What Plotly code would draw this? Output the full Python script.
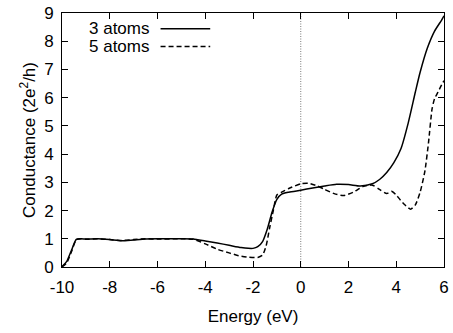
import plotly.graph_objects as go

# 3 atoms (solid)
e3 = [-10, -9.8, -9.6, -9.4, -9.2, -9.0, -8.5, -8.0, -7.5, -7.0, -6.5, -6.0, -5.0, -4.5, -4.0, -3.5, -3.0,
      -2.5, -2.2, -2.0, -1.8, -1.6, -1.4, -1.2, -1.0, -0.8, -0.5, 0.0, 0.5, 1.0, 1.5, 2.0, 2.5, 3.0,
      3.3, 3.6, 3.9, 4.2, 4.5, 4.8, 5.0, 5.3, 5.6, 5.9, 6.0]
g3 = [0.02, 0.2, 0.6, 0.98, 1.0, 0.99, 1.0, 0.97, 0.93, 0.96, 0.99, 1.0, 1.0, 0.99, 0.92, 0.85, 0.77,
      0.69, 0.66, 0.66, 0.72, 0.9, 1.35, 1.95, 2.4, 2.58, 2.65, 2.72, 2.8, 2.87, 2.93, 2.92, 2.87, 2.95,
      3.1, 3.35, 3.7, 4.2, 5.1, 6.2, 6.9, 7.75, 8.35, 8.75, 8.9]

# 5 atoms (dashed)
e5 = [-10, -9.8, -9.6, -9.4, -9.2, -9.0, -8.5, -8.0, -7.5, -7.0, -6.5, -6.0, -5.0, -4.5, -4.0, -3.5, -3.0,
      -2.6, -2.2, -1.8, -1.6, -1.45, -1.3, -1.15, -1.0, -0.8, -0.5, 0.0, 0.3, 0.7, 1.0, 1.4, 1.8, 2.2,
      2.6, 3.0, 3.3, 3.6, 3.8, 4.0, 4.3, 4.6, 4.8, 5.0, 5.2, 5.35, 5.5, 5.6, 5.75, 5.9, 6.0]
g5 = [0.0, 0.15, 0.55, 0.97, 1.0, 0.98, 1.0, 0.97, 0.94, 0.97, 1.0, 0.99, 1.0, 0.98, 0.82, 0.63, 0.5,
      0.4, 0.35, 0.34, 0.42, 0.75, 1.4, 2.0, 2.55, 2.65, 2.78, 2.95, 2.97, 2.87, 2.75, 2.6, 2.53, 2.65,
      2.85, 2.9, 2.75, 2.6, 2.68, 2.55, 2.25, 2.05, 2.2, 2.65, 3.4, 4.4, 5.6, 5.95, 6.2, 6.45, 6.6]

labels = ["3 atoms", "5 atoms"]

x_ticks = [-10, -8, -6, -4, -2, 0, 2, 4, 6]
y_ticks = [0, 1, 2, 3, 4, 5, 6, 7, 8, 9]

FONT = "Liberation Sans, Arial, Helvetica, sans-serif"
FS = 17

fig = go.Figure()
fig.add_trace(go.Scatter(x=e3, y=g3, mode="lines", name=labels[0],
                         line=dict(color="black", width=1.5, shape="spline", smoothing=0.6)))
fig.add_trace(go.Scatter(x=e5, y=g5, mode="lines", name=labels[1],
                         line=dict(color="black", width=1.5, dash="5px,3px", shape="spline", smoothing=0.6)))

# zero-energy reference line
fig.add_shape(type="line", xref="x", yref="y", x0=0, x1=0, y0=0, y1=9,
              line=dict(color="#555555", width=0.8, dash="1px,1.5px"), layer="below")

# gnuplot-style legend: text then sample line
for i, (lab, dash) in enumerate(zip(labels, ["solid", "5px,3px"])):
    yp = 0.938 - i * 0.07
    fig.add_annotation(xref="paper", yref="paper", x=0.227, y=yp, text=lab, showarrow=False,
                       xanchor="right", yanchor="middle", xshift=2,
                       font=dict(family=FONT, size=FS, color="black"))
    fig.add_shape(type="line", xref="paper", yref="paper", x0=0.258, x1=0.388, y0=yp, y1=yp,
                  line=dict(color="black", width=1.5, dash=dash))

axis_common = dict(showline=True, linecolor="black", linewidth=1, mirror="ticks", ticks="inside",
                   ticklen=6, tickcolor="black", tickwidth=1, showgrid=False, zeroline=False,
                   tickfont=dict(family=FONT, size=FS, color="black"))

fig.update_layout(
    width=453, height=333,
    margin=dict(l=62, r=4, t=10, b=66),
    paper_bgcolor="white", plot_bgcolor="white",
    showlegend=False,
    font=dict(family=FONT, size=FS, color="black"),
    xaxis=dict(range=[-10, 6], tickvals=x_ticks, ticktext=[str(v) for v in x_ticks],
               ticklabelstandoff=5,
               title=dict(text="Energy (eV)", font=dict(family=FONT, size=FS), standoff=13),
               **axis_common),
    yaxis=dict(range=[0, 9], tickvals=y_ticks, ticklabelstandoff=4,
               title=dict(text="Conductance (2e<sup>2</sup>/h)", font=dict(family=FONT, size=FS), standoff=4),
               **axis_common),
)

fig.write_html("out.html")
